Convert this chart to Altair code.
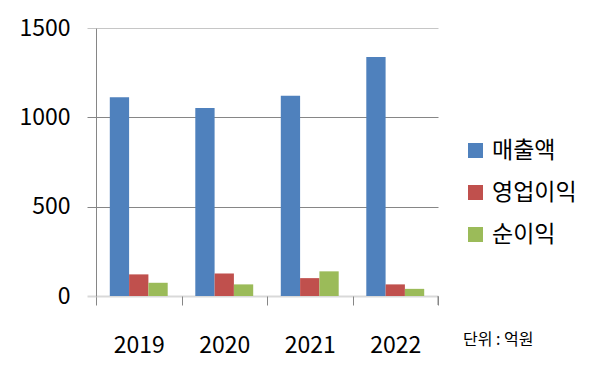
import altair as alt
import pandas as pd

years = ["2019", "2020", "2021", "2022"]
series = ["매출액", "영업이익", "순이익"]
sales = [1113, 1052, 1121, 1338]
op_profit = [121, 126, 100, 65]
net_profit = [74, 65, 138, 40]
colors = ["#4F81BD", "#C0504D", "#9BBB59"]
y_ticks = [0, 500, 1000, 1500]
unit_note = ["단위 : 억원"]

rows = []
for i, y in enumerate(years):
    for s, vals in zip(series, [sales, op_profit, net_profit]):
        rows.append({"year": y, "series": s, "value": vals[i]})
df = pd.DataFrame(rows)

FONT = "Noto Sans CJK KR"

grid_color = {"condition": [{"test": "datum.value == 0", "value": "#d9d9d9"},
                            {"test": "datum.value == 1500", "value": "#c6c6c6"}],
              "value": "#868686"}
grid_width = {"condition": [{"test": "datum.value == 0", "value": 2}], "value": 1}

bars = alt.Chart(df).mark_bar().encode(
    x=alt.X("year:N", sort=years,
            scale=alt.Scale(paddingInner=0, paddingOuter=0),
            axis=alt.Axis(title=None, labelAngle=0, tickBand="extent", tickSize=9,
                          tickColor="#868686", domain=False, grid=False,
                          labelFontSize=23, labelFont=FONT, labelColor="#000",
                          labelPadding=29)),
    xOffset=alt.XOffset("series:N", sort=series,
                        scale=alt.Scale(paddingInner=0, paddingOuter=0.715)),
    y=alt.Y("value:Q", scale=alt.Scale(domain=[0, 1500], nice=False),
            axis=alt.Axis(title=None, values=y_ticks, format="d", tickSize=9,
                          gridColor=grid_color, gridWidth=grid_width,
                          tickColor=grid_color, tickWidth=grid_width,
                          domainColor="#868686", labelFontSize=23, labelFont=FONT,
                          labelColor="#000", labelPadding=17)),
    color=alt.Color("series:N", sort=series,
                    scale=alt.Scale(domain=series, range=colors),
                    legend=alt.Legend(title=None, orient="none", legendX=368, legendY=111,
                                      symbolType="square", symbolSize=225,
                                      symbolStrokeWidth=0, labelFontSize=23,
                                      labelFont=FONT, labelColor="#000",
                                      rowPadding=18, labelOffset=5, padding=0)),
)

edge_tick = alt.Chart(pd.DataFrame({"n": [1]})).mark_rule(color="#868686").encode(
    x=alt.value(342), y=alt.value(268), y2=alt.value(277)
)

note = alt.Chart(pd.DataFrame({"t": unit_note})).mark_text(
    align="left", baseline="middle", fontSize=16, font=FONT, color="#000"
).encode(x=alt.value(367), y=alt.value(312), text="t:N")

chart = alt.layer(bars, edge_tick, note).properties(
    width=342, height=268,
    autosize=alt.AutoSizeParams(type="none"),
    padding={"left": 88, "top": 20, "right": 154, "bottom": 77},
).configure_view(stroke=None)

chart.save("out.html", embed_options={"renderer": "svg", "actions": False})
